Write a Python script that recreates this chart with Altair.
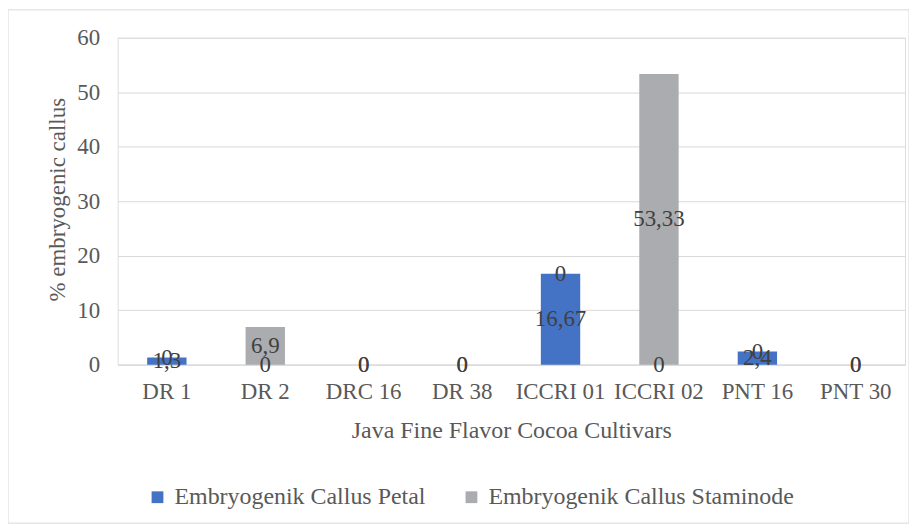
import altair as alt
import pandas as pd

cultivars = ["DR 1", "DR 2", "DRC 16", "DR 38", "ICCRI 01", "ICCRI 02", "PNT 16", "PNT 30"]
petal = [1.3, 0, 0, 0, 16.67, 0, 2.4, 0]
staminode = [0, 6.9, 0, 0, 0, 53.33, 0, 0]
series = ["Embryogenik Callus Petal", "Embryogenik Callus Staminode"]
colors = ["#4472C4", "#ABACAF"]

rows = []
for i, c in enumerate(cultivars):
    for s, vals, o in [(series[0], petal, 0), (series[1], staminode, 1)]:
        v = vals[i]
        rows.append({"cultivar": c, "series": s, "value": v, "ord": o,
                     "label": f"{v:g}".replace(".", ",")})
df = pd.DataFrame(rows)

FONT = "Liberation Serif"
GRAY = "#595959"
x_enc = alt.X("cultivar:N", sort=cultivars,
              scale=alt.Scale(paddingInner=0.6, paddingOuter=0.3),
              axis=alt.Axis(title="Java Fine Flavor Cocoa Cultivars", labelAngle=0,
                            labelFontSize=23, labelFont=FONT, labelColor=GRAY,
                            titleFont=FONT, titleFontSize=24, titleColor=GRAY,
                            titleFontWeight="normal", labelPadding=16, titlePadding=15,
                            labelLimit=0, domainColor="#d9d9d9", ticks=False))

base = alt.Chart(df)

bars = base.mark_bar().encode(
    x=x_enc,
    y=alt.Y("value:Q", stack="zero",
            scale=alt.Scale(domain=[0, 60]),
            axis=alt.Axis(title="% embryogenic callus", values=[0, 10, 20, 30, 40, 50, 60],
                          labelFontSize=23, labelFont=FONT, labelColor=GRAY,
                          titleFont=FONT, titleFontSize=23, titleColor=GRAY,
                          titleFontWeight="normal", labelPadding=18, ticks=False,
                          domain=False, gridColor="#d9d9d9",
                          titleX=-60, titleY=162, titleAngle=-90, titleAlign="center",
                          titleBaseline="middle")),
    color=alt.Color("series:N", sort=series,
                    scale=alt.Scale(domain=series, range=colors),
                    legend=alt.Legend(title=None, orient="none", direction="horizontal",
                                      legendX=28, legendY=449, symbolType="square",
                                      symbolSize=140, symbolStrokeWidth=0,
                                      labelFont=FONT, labelFontSize=24, labelColor=GRAY,
                                      labelLimit=0, columnPadding=34, labelOffset=5)),
    order=alt.Order("ord:Q"),
)

labels = base.transform_stack(
    stack="value", groupby=["cultivar"], as_=["v0", "v1"],
    sort=[alt.SortField("ord", order="ascending")]
).transform_calculate(
    mid="(datum.v0 + datum.v1) / 2"
).mark_text(font=FONT, fontSize=23, color="#404040", baseline="middle").encode(
    x=alt.X("cultivar:N", sort=cultivars),
    y=alt.Y("mid:Q"),
    text="label:N",
)

border = alt.Chart(pd.DataFrame({"a": [0]})).mark_rect(
    fill=None, stroke="#d9d9d9", strokeWidth=1
).encode(x=alt.value(-110), x2=alt.value(794), y=alt.value(-28), y2=alt.value(487))

chart = alt.layer(border, bars, labels).properties(
    width=790, height=328,
    autosize=alt.AutoSizeParams(type="none"),
    padding={"left": 110, "top": 29, "right": 4, "bottom": 160},
).configure_view(stroke=None).configure(background="white", font=FONT)

chart.save("out.html", embed_options={"renderer": "svg", "actions": False})
